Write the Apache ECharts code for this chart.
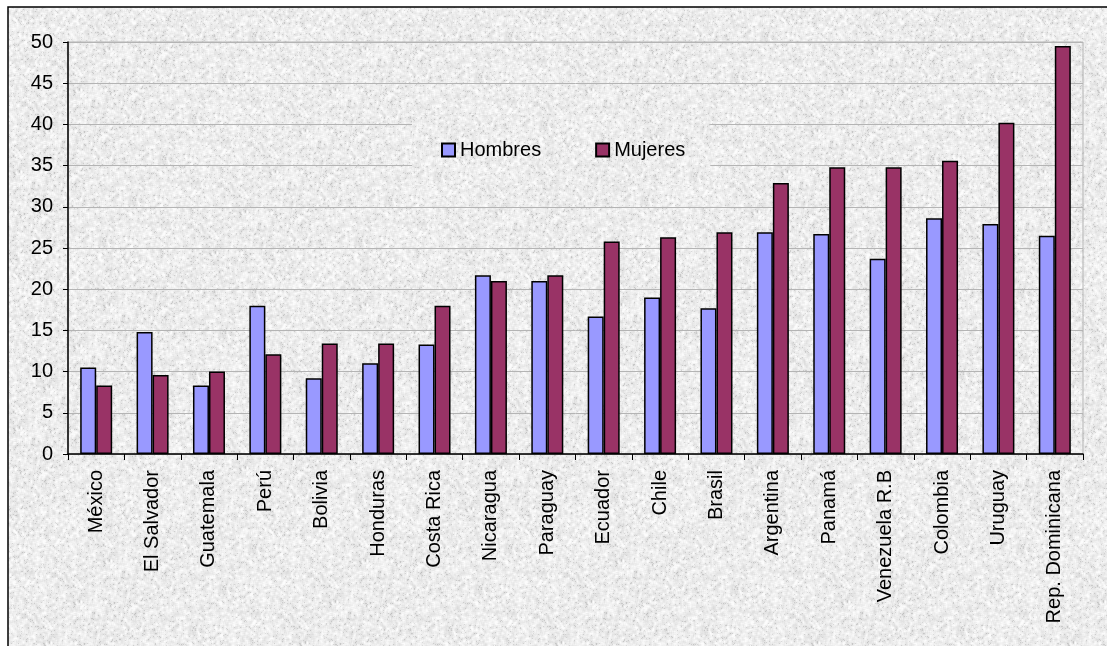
<!DOCTYPE html>
<html>
<head>
<meta charset="utf-8">
<script src="https://cdn.jsdelivr.net/npm/echarts@6/dist/echarts.min.js"></script>
<style>
html,body{margin:0;padding:0;background:#fff;}
#chart{width:1107px;height:646px;}
</style>
</head>
<body>
<div id="chart"></div>
<script>
const categories = ['México','El Salvador','Guatemala','Perú','Bolivia','Honduras','Costa Rica','Nicaragua','Paraguay','Ecuador','Chile','Brasil','Argentina','Panamá','Venezuela R.B','Colombia','Uruguay','Rep. Dominicana'];
const hombres = [10.5, 14.8, 8.3, 18.0, 9.2, 11.0, 13.3, 21.7, 21.0, 16.7, 19.0, 17.7, 26.9, 26.7, 23.7, 28.6, 27.9, 26.5];
const mujeres = [8.3, 9.6, 10.0, 12.1, 13.4, 13.4, 18.0, 21.0, 21.7, 25.8, 26.3, 26.9, 32.9, 34.8, 34.8, 35.6, 40.2, 49.5];
const seriesNames = ['Hombres','Mujeres'];
const yTicks = [0,5,10,15,20,25,30,35,40,45,50];

// granite-like texture (deterministic hash noise)
function makeTexture(){
  const c = document.createElement('canvas');
  c.width = 256; c.height = 256;
  const ctx = c.getContext('2d');
  const img = ctx.createImageData(256,256);
  let s = 12345;
  function rnd(){ s = (s * 1103515245 + 12345) & 0x7fffffff; return s / 0x7fffffff; }
  const base = new Float32Array(256*256);
  for(let i=0;i<base.length;i++){ base[i] = rnd(); }
  const out = new Float32Array(256*256);
  for(let y=0;y<256;y++){
    for(let x=0;x<256;x++){
      let sum=0;
      for(let dy=-1;dy<=1;dy++)for(let dx=-1;dx<=1;dx++){
        sum += base[((y+dy+256)%256)*256 + ((x+dx+256)%256)];
      }
      out[y*256+x] = sum/9;
    }
  }
  for(let i=0;i<out.length;i++){
    let v = out[i];
    let g = 237 + (v-0.5)*70;
    if (base[i] < 0.04) g -= 25;
    g = Math.max(185, Math.min(252, g));
    img.data[i*4] = g; img.data[i*4+1] = g; img.data[i*4+2] = g; img.data[i*4+3] = 255;
  }
  ctx.putImageData(img,0,0);
  return c;
}
const tex = makeTexture();

const chart = echarts.init(document.getElementById('chart'), null, {renderer:'canvas'});
const font = 'Arial, "Liberation Sans", sans-serif';
chart.setOption({
  animation: false,
  backgroundColor: '#ffffff',
  graphic: [{
    type: 'rect',
    z: -100,
    shape: {x: 8, y: 7, width: 1110, height: 650},
    style: {fill: {image: tex, repeat: 'repeat'}, stroke: '#000', lineWidth: 1.5}
  }],
  legend: {
    data: seriesNames,
    left: 412,
    top: 115,
    orient: 'horizontal',
    padding: [25, 25, 25, 29],
    itemGap: 54,
    itemWidth: 13,
    itemHeight: 13,
    icon: 'rect',
    backgroundColor: {image: tex, repeat: 'repeat'},
    textStyle: {fontFamily: font, fontSize: 20, color: '#000'}
  },
  grid: {
    left: 68, right: 24, top: 42, bottom: 192,
    show: true, borderColor: '#b4b4b4', borderWidth: 1, backgroundColor: 'transparent'
  },
  xAxis: {
    type: 'category',
    data: categories,
    boundaryGap: true,
    axisLine: {lineStyle: {color: '#000', width: 1.5}},
    axisTick: {show: true, length: 6, lineStyle: {color: '#000'}},
    axisLabel: {rotate: 90, interval: 0, margin: 16, fontFamily: font, fontSize: 20, color: '#000'}
  },
  yAxis: {
    type: 'value',
    min: yTicks[0], max: yTicks[yTicks.length-1], interval: 5,
    axisLine: {show: true, lineStyle: {color: '#000', width: 1.5}},
    axisTick: {show: true, length: 5, lineStyle: {color: '#000'}},
    axisLabel: {margin: 15, fontFamily: font, fontSize: 20, color: '#000'},
    splitLine: {show: true, lineStyle: {color: '#b4b4b4', width: 1}}
  },
  series: [
    {name: seriesNames[0], type: 'bar', data: hombres, barWidth: 16, barGap: '0%',
     itemStyle: {color: '#9999ff', borderColor: '#000', borderWidth: 1.5}},
    {name: seriesNames[1], type: 'bar', data: mujeres, barWidth: 16, barGap: '0%',
     itemStyle: {color: '#993366', borderColor: '#000', borderWidth: 1.5}}
  ]
});
</script>
</body>
</html>
